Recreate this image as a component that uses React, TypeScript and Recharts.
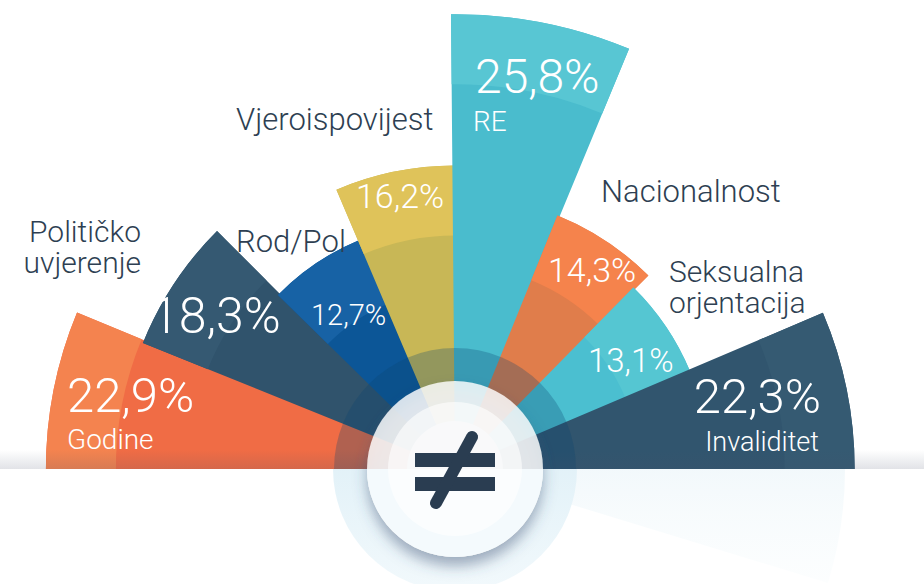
import React from 'react';
import { RadialBarChart, RadialBar, PolarAngleAxis, PolarRadiusAxis, Sector } from 'recharts';

// shares of reported discrimination grounds, left to right
const categories = [
  'Godine',
  'Političko uvjerenje',
  'Rod/Pol',
  'Vjeroispovijest',
  'RE',
  'Nacionalnost',
  'Seksualna orjentacija',
  'Invaliditet',
];
const shares = [22.9, 18.3, 12.7, 16.2, 25.8, 14.3, 13.1, 22.3];

// outer (lighter) band and inner body of each sector
const outerTones = ['#F4834F', '#355972', '#1762A5', '#DFC35A', '#58C6D3', '#F5834C', '#55C6D2', '#355A72'];
const innerTones = ['#F06C45', '#30536C', '#0C5697', '#C8B756', '#4ABCCD', '#E07D4B', '#4BBFD0', '#31556E'];

const data = categories.map((name, i) => ({ name, value: shares[i] }));

const fmt = (v: number) => v.toFixed(1).replace('.', ',') + '%';

const CX = 455;
const CY = 469;
const DARK = '#2E3F52';
const FONT = 'Roboto, "Open Sans", sans-serif';

// where each text sits (layout only)
const valuePos = [
  { x: 67, y: 412, size: 49, anchor: 'start' },
  { x: 151, y: 333, size: 50, anchor: 'start' },
  { x: 311, y: 325, size: 29, anchor: 'start' },
  { x: 356, y: 208, size: 34, anchor: 'start' },
  { x: 475, y: 93, size: 48, anchor: 'start' },
  { x: 548, y: 282, size: 34, anchor: 'start' },
  { x: 588, y: 372, size: 33, anchor: 'start' },
  { x: 821, y: 413, size: 49, anchor: 'end' },
];
const namePos = [
  { x: 67, y: 449, size: 28, anchor: 'start', inside: true, lines: ['Godine'] },
  { x: 141, y: 242, size: 30, anchor: 'end', inside: false, lines: ['Političko', 'uvjerenje'] },
  { x: 236, y: 252, size: 31, anchor: 'start', inside: false, lines: ['Rod/Pol'] },
  { x: 236, y: 130, size: 31, anchor: 'start', inside: false, lines: ['Vjeroispovijest'] },
  { x: 473, y: 131, size: 28, anchor: 'start', inside: true, lines: ['RE'] },
  { x: 601, y: 202, size: 31, anchor: 'start', inside: false, lines: ['Nacionalnost'] },
  { x: 669, y: 282, size: 30, anchor: 'start', inside: false, lines: ['Seksualna', 'orjentacija'] },
  { x: 819, y: 451, size: 27, anchor: 'end', inside: true, lines: ['Invaliditet'] },
];

const BandedSector = (props: any) => {
  const { cx, cy, innerRadius, outerRadius, startAngle, endAngle } = props;
  let idx = typeof props.index === 'number' ? props.index : -1;
  if (idx < 0) idx = categories.indexOf(props.payload?.name ?? props.name);
  const band = 70;
  return (
    <g>
      <Sector
        cx={cx}
        cy={cy}
        innerRadius={innerRadius}
        outerRadius={outerRadius}
        startAngle={startAngle}
        endAngle={endAngle}
        fill={innerTones[idx]}
      />
      <Sector
        cx={cx}
        cy={cy}
        innerRadius={Math.max(innerRadius, outerRadius - band)}
        outerRadius={outerRadius}
        startAngle={startAngle}
        endAngle={endAngle}
        fill={outerTones[idx]}
      />
    </g>
  );
};

const wedge = (r: number, a0: number, a1: number) => {
  const p = (a: number) => [CX + r * Math.cos((a * Math.PI) / 180), CY - r * Math.sin((a * Math.PI) / 180)];
  const [x0, y0] = p(a0);
  const [x1, y1] = p(a1);
  return `M${CX},${CY} L${x0},${y0} A${r},${r} 0 0 1 ${x1},${y1} Z`;
};

export default function App() {
  return (
    <div style={{ position: 'absolute', left: 0, top: 0, width: 924, height: 584, background: '#fff' }}>
      {/* bands are drawn one step counter-clockwise of their tick, so the range is shifted by one band */}
      <RadialBarChart
        width={924}
        height={584}
        data={data}
        layout="centric"
        cx={CX}
        cy={CY}
        startAngle={157.5}
        endAngle={-22.5}
        innerRadius={48}
        outerRadius={458}
        barCategoryGap={0}
        barGap={0}
        margin={{ top: 0, right: 0, bottom: 0, left: 0 }}
      >
        <PolarAngleAxis type="category" dataKey="name" tick={false} axisLine={false} tickLine={false} />
        <PolarRadiusAxis type="number" domain={[0, 26]} tick={false} axisLine={false} tickLine={false} />
        <RadialBar dataKey="value" shape={BandedSector} isAnimationActive={false} />
      </RadialBarChart>

      <svg width={924} height={584} style={{ position: 'absolute', left: 0, top: 0, pointerEvents: 'none' }}>
        <defs>
          <clipPath id="upper">
            <rect x={0} y={0} width={924} height={CY} />
          </clipPath>
          <clipPath id="lower">
            <rect x={0} y={CY} width={924} height={584 - CY} />
          </clipPath>
          <linearGradient id="floor" x1="0" y1="0" x2="0" y2="1">
            <stop offset="0%" stopColor="#46506a" stopOpacity={0} />
            <stop offset="100%" stopColor="#46506a" stopOpacity={0.16} />
          </linearGradient>
          <linearGradient id="ringFade" x1="0" y1="0" x2="0" y2="1">
            <stop offset="0%" stopColor="#d3eaf4" />
            <stop offset="100%" stopColor="#f2f9fc" />
          </linearGradient>
          <linearGradient id="mirror" x1="0" y1="0" x2="0" y2="1">
            <stop offset="0%" stopColor="#f1f8fb" stopOpacity={0.9} />
            <stop offset="100%" stopColor="#f8fcfd" stopOpacity={0.4} />
          </linearGradient>
          <filter id="drop" x="-30%" y="-30%" width="160%" height="170%">
            <feDropShadow dx={0} dy={9} stdDeviation={7} floodColor="#3b4f73" floodOpacity={0.55} />
          </filter>
        </defs>

        {/* dark ring around the hub */}
        <circle cx={CX} cy={CY} r={121} fill="rgba(10,70,110,0.28)" clipPath="url(#upper)" />
        <rect x={0} y={450} width={924} height={CY - 450} fill="url(#floor)" />

        {/* floor and reflection */}
        <rect x={0} y={CY} width={924} height={584 - CY} fill="#fff" />
        <path d={wedge(390, 0, -17)} fill="url(#mirror)" />
        <circle cx={CX} cy={CY} r={122} fill="url(#ringFade)" clipPath="url(#lower)" />

        {/* hub */}
        <circle cx={CX} cy={CY} r={88} fill="rgba(255,255,255,0.82)" filter="url(#drop)" />
        <circle cx={CX} cy={CY} r={88} fill="#f4fafd" clipPath="url(#lower)" />
        <circle cx={CX} cy={CY} r={67} fill="rgba(255,255,255,0.6)" />
        <rect x={415} y={453} width={80} height={14} fill="#2A3D51" />
        <rect x={415} y={477} width={80} height={14} fill="#2A3D51" />
        <line x1={472} y1={437} x2={436} y2={503} stroke="#2A3D51" strokeWidth={12} strokeLinecap="round" />

        {/* values */}
        {shares.map((v, i) => (
          <text
            key={`v-${i}`}
            x={valuePos[i].x}
            y={valuePos[i].y}
            fontSize={valuePos[i].size}
            textAnchor={valuePos[i].anchor as any}
            fill="#fff"
            fontFamily={FONT}
            fontWeight={300}
          >
            {fmt(v)}
          </text>
        ))}

        {/* category names */}
        {namePos.map((n, i) => (
          <text
            key={`n-${i}`}
            x={n.x}
            y={n.y}
            fontSize={n.size}
            textAnchor={n.anchor as any}
            fill={n.inside ? '#fff' : DARK}
            fontFamily={FONT}
            fontWeight={300}
          >
            {n.lines.map((line, j) => (
              <tspan key={j} x={n.x} dy={j === 0 ? 0 : 31}>
                {line}
              </tspan>
            ))}
          </text>
        ))}
      </svg>
    </div>
  );
}
